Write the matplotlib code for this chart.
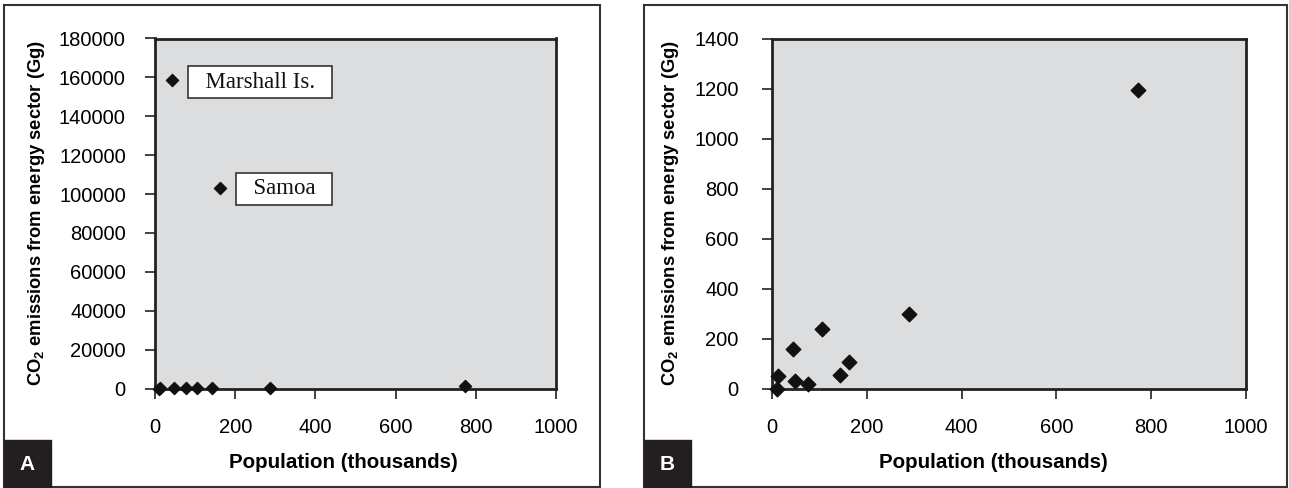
import matplotlib.pyplot as plt
from matplotlib.patches import Rectangle

plt.rcParams['font.family'] = ['Liberation Sans', 'DejaVu Sans']

# population (thousands) and CO2 emissions (Gg)
pop = [10, 12, 48, 77, 105, 143, 288, 773]
co2 = [0, 50, 30, 20, 238, 55, 298, 1195]

outlier_names = ["Marshall Is.", "Samoa"]
outlier_pop = [43, 161]
outlier_co2_a = [158500, 103000]   # as reported (panel A)
outlier_co2_b = [160, 105]         # corrected (panel B)
pop_b = [10, 12, 45, 48, 77, 105, 143, 163, 288, 773]
co2_b = [0, 50, 160, 30, 20, 238, 55, 105, 298, 1195]

W, H = 1289, 488
fig = plt.figure(figsize=(W / 100, H / 100), dpi=100)
bg = '#dcdddf'


def style(ax, yticks, ypad, ylab_x, xlab_x):
    ax.set_facecolor(bg)
    for s in ax.spines.values():
        s.set_linewidth(2)
        s.set_color('#222222')
    ax.set_xlim(0, 1000)
    ax.set_xticks([0, 200, 400, 600, 800, 1000])
    ax.set_yticks(yticks)
    ax.set_ylim(yticks[0], yticks[-1])
    ax.tick_params(direction='out', length=7, width=1.2, labelsize=14.5,
                   color='#222222')
    ax.tick_params(axis='x', pad=14)
    ax.tick_params(axis='y', pad=ypad)
    ax.set_xlabel("Population (thousands)", fontsize=14.8, fontweight='bold')
    ax.set_ylabel(r"CO$_\mathregular{2}$ emissions from energy sector (Gg)",
                  fontsize=13.2, fontweight='bold')
    ax.xaxis.set_label_coords(xlab_x, -0.184)
    ax.yaxis.set_label_coords(ylab_x, 0.5)


# panel A
axA = fig.add_axes([155 / W, 1 - 388.5 / H, 401 / W, 350 / H])
style(axA, list(range(0, 180001, 20000)), 14, -0.269, 0.469)
axA.scatter(pop, co2, marker='D', s=38, color='#111111', zorder=5, clip_on=False)
axA.scatter(outlier_pop, outlier_co2_a, marker='D', s=38, color='#111111', zorder=5)
label_pos = [(262, 157600), (322, 102600)]
for name, (tx, ty) in zip(outlier_names, label_pos):
    axA.text(tx, ty, "\u2002" + name + "\u2002", family='Liberation Serif',
             fontsize=16.5, ha='center', va='center', color='#111111',
             bbox=dict(boxstyle='square,pad=0.25', fc='white', ec='#333333', lw=1.2))

# panel B
axB = fig.add_axes([772 / W, 1 - 388.5 / H, 474 / W, 350 / H])
style(axB, list(range(0, 1401, 200)), 17, -0.192, 0.466)
axB.scatter(pop_b, co2_b, marker='D', s=55, color='#111111', zorder=5, clip_on=False)

# panel frames and letter tags
for x0, x1, tag in [(4, 600, 'A'), (644, 1287, 'B')]:
    fig.patches.append(Rectangle((x0 / W, 1 - 487 / H), (x1 - x0) / W, 482 / H,
                                 transform=fig.transFigure, fill=False,
                                 ec='#333333', lw=1.5))
    fig.patches.append(Rectangle((x0 / W, 1 - 487 / H), 47 / W, 47 / H,
                                 transform=fig.transFigure, color='#231f20'))
    fig.text((x0 + 23.5) / W, 1 - 464 / H, tag, color='white', fontsize=15,
             fontweight='bold', ha='center', va='center')

fig.savefig('out.png', dpi=100)
